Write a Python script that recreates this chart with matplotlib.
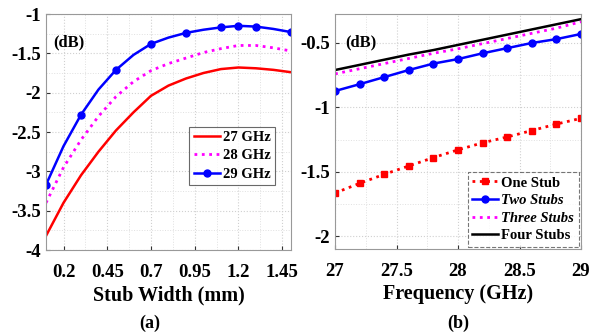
import matplotlib
matplotlib.use("Agg")
import matplotlib.pyplot as plt
from matplotlib.ticker import AutoMinorLocator
import numpy as np

plt.rcParams['font.family'] = ['Liberation Serif', 'DejaVu Serif']
plt.rcParams['font.weight'] = 'bold'

# Panel (a) data
stub_width = [0.1, 0.2, 0.3, 0.4, 0.5, 0.6, 0.7, 0.8, 0.9, 1.0, 1.1, 1.2, 1.3, 1.4, 1.5]
ghz27 = [-3.82, -3.40, -3.05, -2.75, -2.48, -2.25, -2.04, -1.91, -1.82, -1.75, -1.70, -1.68, -1.69, -1.71, -1.74]
ghz28 = [-3.40, -2.95, -2.60, -2.30, -2.05, -1.86, -1.72, -1.63, -1.56, -1.49, -1.44, -1.40, -1.40, -1.43, -1.47]
ghz29 = [-3.17, -2.68, -2.28, -1.96, -1.71, -1.52, -1.38, -1.30, -1.24, -1.20, -1.17, -1.15, -1.16, -1.19, -1.23]
ghz29_marks = [0, 2, 4, 6, 8, 10, 11, 12, 14]
xticks_a = [0.2, 0.45, 0.7, 0.95, 1.2, 1.45]
xticklabels_a = ['0.2', '0.45', '0.7', '0.95', '1.2', '1.45']
yticks_a = [-4, -3.5, -3, -2.5, -2, -1.5, -1]
yticklabels_a = ['-4', '-3.5', '-3', '-2.5', '-2', '-1.5', '-1']

# Panel (b) data
freq = [27.0, 27.2, 27.4, 27.6, 27.8, 28.0, 28.2, 28.4, 28.6, 28.8, 29.0]
one_stub = [-1.665, -1.59, -1.52, -1.455, -1.39, -1.33, -1.275, -1.23, -1.18, -1.13, -1.085]
two_stubs = [-0.873, -0.82, -0.765, -0.71, -0.66, -0.625, -0.58, -0.54, -0.50, -0.47, -0.43]
three_stubs = [-0.74, -0.70, -0.66, -0.62, -0.58, -0.545, -0.505, -0.465, -0.425, -0.385, -0.335]
four_stubs = [-0.71, -0.67, -0.63, -0.59, -0.555, -0.515, -0.475, -0.435, -0.395, -0.355, -0.315]
xticks_b = [27, 27.5, 28, 28.5, 29]
xticklabels_b = ['27', '27.5', '28', '28.5', '29']
yticks_b = [-2, -1.5, -1, -0.5]
yticklabels_b = ['-2', '-1.5', '-1', '-0.5']

fig = plt.figure(figsize=(5.93, 3.35), dpi=100)
ax1 = fig.add_axes([0.0776, 0.2537, 0.413, 0.7045])
ax2 = fig.add_axes([0.565, 0.2567, 0.4148, 0.7015])

def style(ax):
    ax.xaxis.set_minor_locator(AutoMinorLocator(2))
    ax.yaxis.set_minor_locator(AutoMinorLocator(2))
    ax.grid(True, which='major', color='#d0d0d0', linestyle=':', linewidth=0.8)
    ax.grid(True, which='minor', color='#e0e0e0', linestyle=':', linewidth=0.7)
    ax.tick_params(direction='in', which='both', colors='#333333', labelcolor='black',
                   labelsize=13.5, length=3)
    ax.tick_params(which='minor', length=0)
    ax.tick_params(axis='x', pad=10)
    for s in ax.spines.values():
        s.set_color('#999999')
        s.set_linewidth(0.8)
    for lab in ax.get_xticklabels() + ax.get_yticklabels():
        lab.set_fontweight('bold')

ax1.plot(stub_width, ghz27, color='#ff0000', lw=1.8, label='27 GHz')
ax1.plot(stub_width, ghz28, color='#ff00ff', lw=2.0, linestyle=':', label='28 GHz')
ax1.plot(stub_width, ghz29, color='#0000ff', lw=1.8, marker='o', markersize=5,
         markevery=ghz29_marks, label='29 GHz')
ax1.set_xlim(0.1, 1.5)
ax1.set_ylim(-4, -1)
ax1.set_xticks(xticks_a)
ax1.set_xticklabels(xticklabels_a)
ax1.set_yticks(yticks_a)
ax1.set_yticklabels(yticklabels_a)
style(ax1)
ax1.set_xlabel('Stub Width (mm)', fontsize=14.5, fontweight='bold', labelpad=3)
ax1.text(0.03, 0.88, '(dB)', transform=ax1.transAxes, fontsize=12, fontweight='bold',
         va='center', ha='left')
leg1 = ax1.legend(loc='lower left', bbox_to_anchor=(0.585, 0.275), fontsize=10.5,
                  frameon=True, fancybox=False, handlelength=1.8, handletextpad=0.2,
                  borderpad=0.3, labelspacing=0.35, borderaxespad=0)
leg1.get_frame().set_edgecolor('#444444')
leg1.get_frame().set_linewidth(0.8)
for t in leg1.get_texts():
    t.set_fontweight('bold')

ax2.plot(freq, one_stub, color='#ff0000', lw=2.0, linestyle=':', marker='s', markersize=4.5,
         label='One Stub')
ax2.plot(freq, two_stubs, color='#0000ff', lw=1.8, marker='o', markersize=5, label='Two Stubs')
ax2.plot(freq, three_stubs, color='#ff00ff', lw=2.0, linestyle=':', label='Three Stubs')
ax2.plot(freq, four_stubs, color='black', lw=1.8, label='Four Stubs')
ax2.set_xlim(27, 29)
ax2.set_ylim(-2.1, -0.275)
ax2.set_xticks(xticks_b)
ax2.set_xticklabels(xticklabels_b)
ax2.set_yticks(yticks_b)
ax2.set_yticklabels(yticklabels_b)
style(ax2)
ax2.set_xlabel('Frequency (GHz)', fontsize=14.5, fontweight='bold', labelpad=3)
ax2.text(0.04, 0.88, '(dB)', transform=ax2.transAxes, fontsize=12, fontweight='bold',
         va='center', ha='left')
leg2 = ax2.legend(loc='lower right', bbox_to_anchor=(0.99, 0.01), fontsize=10.5,
                  frameon=True, fancybox=False, handlelength=1.8, handletextpad=0.2,
                  borderpad=0.3, labelspacing=0.3, borderaxespad=0)
leg2.get_frame().set_edgecolor('#555555')
leg2.get_frame().set_linestyle('--')
leg2.get_frame().set_linewidth(0.8)
for i, t in enumerate(leg2.get_texts()):
    t.set_fontweight('bold')
    if i in (1, 2):
        t.set_fontstyle('italic')

fig.text(0.253, 0.035, '(a)', fontsize=13, fontweight='bold', ha='center', va='center')
fig.text(0.772, 0.035, '(b)', fontsize=13, fontweight='bold', ha='center', va='center')

fig.savefig('out.png', dpi=100)
